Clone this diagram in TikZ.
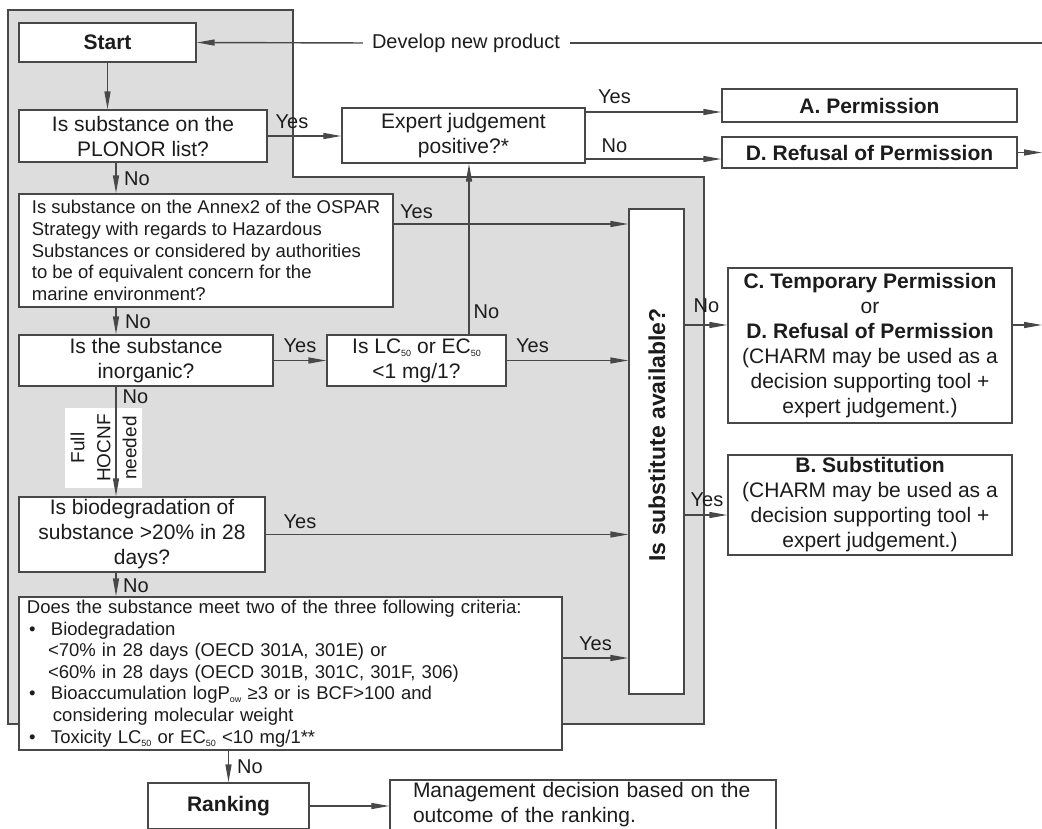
\documentclass[tikz,border=0pt]{standalone}
\usepackage{fontspec}
\setmainfont{Liberation Sans}
\usetikzlibrary{arrows.meta}
\definecolor{bggray}{RGB}{221,221,221}
\definecolor{lnc}{RGB}{72,72,72}
\definecolor{txc}{RGB}{28,28,28}
\newcommand\mysub[1]{\raisebox{-0.3ex}{\fontsize{9}{9}\selectfont #1}}
\begin{document}
\begin{tikzpicture}[x=1pt,y=-1pt,
 box/.style={draw=lnc,line width=1.4pt,fill=white,inner sep=0pt,text=txc,align=center,font=\fontsize{21}{25}\selectfont},
 smallbox/.style={box,font=\fontsize{18.5}{21.6}\selectfont},
 arr/.style={draw=lnc,line width=1.4pt,-{Triangle[length=18pt,width=6pt]}},
 ln/.style={draw=lnc,line width=1.4pt},
 lab/.style={inner sep=0pt,text=txc,font=\fontsize{20}{24}\selectfont}]

\useasboundingbox (0,0) rectangle (1042,828);
\clip (0,0) rectangle (1042,828);

% grey frame
\draw[ln,fill=bggray] (8,10) -- (293,10) -- (293,177) -- (704,177) -- (704,724) -- (8,724) -- cycle;

% boxes
\node[box,minimum width=177pt,minimum height=39pt] (start) at (107.5,42.5) {\bfseries Start};
\node[box,minimum width=248pt,minimum height=52pt] (plonor) at (143,136) {Is substance on the\\PLONOR list?};
\node[box,minimum width=243pt,minimum height=55pt] (expert) at (463.5,135.5) {Expert judgement\\positive?*};
\node[box,minimum width=295pt,minimum height=33pt] (permA) at (869.5,105.5) {\bfseries A. Permission};
\node[box,minimum width=295pt,minimum height=31pt] (refD) at (869.5,152.5) {\bfseries D. Refusal of Permission};
\node[smallbox,align=left,minimum width=374pt,minimum height=113pt] (ospar) at (206,250.5)
 {Is substance on the Annex2 of the OSPAR\\Strategy with regards to Hazardous\\Substances or considered by authorities\\to be of equivalent concern for the\\marine environment?};
\node[box,minimum width=254pt,minimum height=51pt] (inorg) at (146,360.5) {Is the substance\\inorganic?};
\node[box,minimum width=179pt,minimum height=51pt] (lc50) at (416.5,360.5) {Is LC\mysub{50} or EC\mysub{50}\\<1 mg/1?};
\node[box,minimum width=55pt,minimum height=485pt] (subst) at (656.5,451.5) {};
\node[inner sep=0pt,rotate=90,text=txc,font=\fontsize{23}{27}\selectfont\bfseries] (substq) at (657,435) {Is substitute available?};
\node[box,minimum width=284pt,minimum height=155pt] (tempC) at (870,345.5)
 {\textbf{C. Temporary Permission}\\or\\\textbf{D. Refusal of Permission}\\(CHARM may be used as a\\decision supporting tool +\\expert judgement.)};
\node[box,minimum width=284pt,minimum height=100pt] (substB) at (870,505)
 {\textbf{B. Substitution}\\(CHARM may be used as a\\decision supporting tool +\\expert judgement.)};
\node[box,minimum width=246pt,minimum height=75pt] (biodeg) at (142,534.5) {Is biodegradation of\\substance >20\% in 28\\days?};
\node[smallbox,align=left,text width=527pt,minimum width=543pt,minimum height=153pt] (crit) at (290.5,673.5)
 {Does the substance meet two of the three following criteria:\\
  \makebox[24pt][l]{\hspace*{2pt}•}Biodegradation\\
  \hspace*{21pt}<70\% in 28 days (OECD 301A, 301E) or\\
  \hspace*{21pt}<60\% in 28 days (OECD 301B, 301C, 301F, 306)\\
  \makebox[24pt][l]{\hspace*{2pt}•}Bioaccumulation logP\mysub{ow} ≥3 or is BCF>100 and\\
  \hspace*{26pt}considering molecular weight\\
  \makebox[24pt][l]{\hspace*{2pt}•}Toxicity LC\mysub{50} or EC\mysub{50} <10 mg/1**};
\node[box,minimum width=161pt,minimum height=46pt] (ranking) at (228.5,806) {\bfseries Ranking};
\node[box,align=left,text width=340pt,minimum width=386pt,minimum height=50pt] (mgmt) at (583,805)
 {Management decision based on the\\outcome of the ranking.};

% white label on the arrow
\node[fill=white,rotate=90,inner sep=0pt,minimum width=80pt,minimum height=77pt,align=center,text=txc,font=\fontsize{19}{26}\selectfont] (hocnf) at (103.5,448) {Full\\HOCNF\\needed};

% helper coordinates
\coordinate (vx) at (116,0);
\coordinate (rx) at (1042,0);

% connectors
\node[lab] (develop) at (466,43) {Develop new product};
\draw[arr,shorten <=9pt] (develop.west) -- (start.east);
\draw[ln,shorten <=10pt] (develop.east) -- (develop.east -| rx);

\draw[arr] (start.south) -- (start.south |- plonor.north);
\draw[arr] (plonor.east) -- (plonor.east -| expert.west);
\draw[arr] (plonor.south -| vx) -- (ospar.north -| vx);
\draw[arr] (ospar.south -| vx) -- (inorg.north -| vx);
\draw[arr] (inorg.south -| vx) -- (biodeg.north -| vx);
\draw[arr] (biodeg.south -| vx) -- (crit.north -| vx);
\draw[arr] (crit.south -| ranking.north) -- (ranking.north);

\coordinate (eA) at ([yshift=23.5pt]expert.east);
\draw[arr] (eA) -- (eA -| permA.west);
\coordinate (eD) at ([yshift=-23.5pt]expert.east);
\draw[arr] (eD) -- (eD -| refD.west);
\draw[arr] (refD.east) -- (refD.east -| rx);

\coordinate (oY) at ([yshift=26.5pt]ospar.east);
\draw[arr] (oY) -- (oY -| subst.west);
\draw[arr] (inorg.east) -- (inorg.east -| lc50.west);
\draw[arr] (lc50.east) -- (lc50.east -| subst.west);
\coordinate (lN) at ([xshift=52.5pt]lc50.north);
\draw[arr] (lN) -- (lN |- expert.south);
\draw[arr] (biodeg.east) -- (biodeg.east -| subst.west);
\coordinate (cY) at ([yshift=15.5pt]crit.east);
\draw[arr] (cY) -- (cY -| subst.west);

\coordinate (tN) at ([yshift=20.5pt]tempC.west);
\draw[arr] (tN -| subst.east) -- (tN);
\coordinate (tO) at ([yshift=20.5pt]tempC.east);
\draw[arr] (tO) -- (tO -| rx);
\coordinate (bY) at ([yshift=-10pt]substB.west);
\draw[arr] (bY -| subst.east) -- (bY);
\draw[arr] (ranking.east) -- (ranking.east -| mgmt.west);

% labels
\node[lab] (l1) at (292,122) {Yes};
\node[lab] (l2) at (614.5,97) {Yes};
\node[lab] (l3) at (614.5,146) {No};
\node[lab] (l4) at (137,179) {No};
\node[lab] (l5) at (416.5,211.5) {Yes};
\node[lab] (l6) at (138,322) {No};
\node[lab] (l7) at (300,346) {Yes};
\node[lab] (l8) at (532.5,346) {Yes};
\node[lab] (l9) at (486.5,311.5) {No};
\node[lab] (l10) at (135.5,397) {No};
\node[lab] (l11) at (300,521.5) {Yes};
\node[lab] (l12) at (136,586) {No};
\node[lab] (l13) at (595.5,643.5) {Yes};
\node[lab] (l14) at (250,767) {No};
\node[lab] (l15) at (706.5,306) {No};
\node[lab] (l16) at (707,500) {Yes};
\end{tikzpicture}
\end{document}
